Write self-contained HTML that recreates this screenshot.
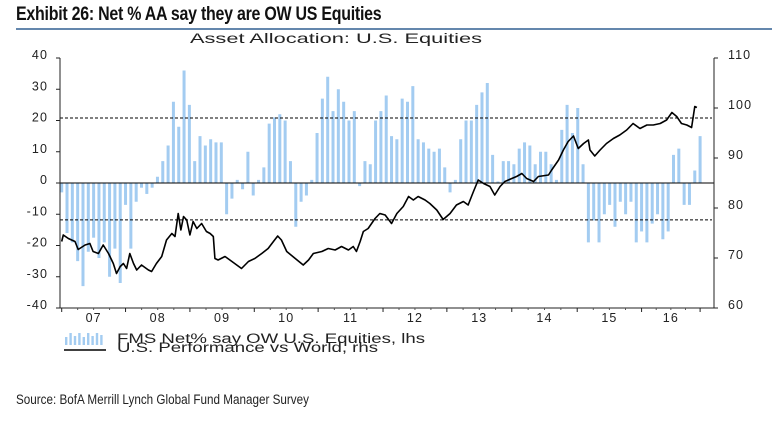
<!DOCTYPE html>
<html><head><meta charset="utf-8"><style>
body{margin:0;background:#fff;width:774px;height:432px;overflow:hidden;font-family:"Liberation Sans",sans-serif}
#title{position:absolute;left:16px;top:4px;font-family:"Liberation Sans",sans-serif;font-weight:bold;font-size:19px;color:#111;letter-spacing:-0.3px;transform:scaleX(0.84);transform-origin:0 0;white-space:nowrap}
#rule{position:absolute;left:16px;top:28px;width:756px;height:2px;background:#6487ad}
#source{position:absolute;left:16px;top:392px;font-family:"Liberation Sans",sans-serif;font-size:13.5px;color:#222;transform:scaleX(0.865);transform-origin:0 0;white-space:nowrap}
svg{position:absolute;left:0;top:0}
</style></head><body>
<div id="title">Exhibit 26: Net % AA say they are OW US Equities</div>
<div id="rule"></div>
<div id="source">Source: BofA Merrill Lynch Global Fund Manager Survey</div>
<svg id="chart" width="774" height="432"></svg>
<script>
const barValues=[-3,-16,-19,-25,-33,-22,-17.5,-24,-19,-30,-21,-32,-7,-21,-6,-1.5,-3.5,-1.5,2,7,12,26,18,36,25,7,15,12,14,13,13,-10,-5,1,-2,10,-4,1,5,19,21,22,20,7,-14,-6,-4,1,16,27,34,23,30,26,20,23,-1,7,6,20,23,
28,15,14,27,26,31,14,13,11,10,11,5,-3,1,14,20,20,25,29,32,9,0.5,7,7,6,11,13,12,6,10,10,6,1,17,25,16,24,6,-19,-12,-19,-10,-7,-14,-6,-10,-6,-19,-15.5,-19,-13,-10,-18,-15.5,9,11,-7,-7,4,15];
const lineIdx=[0,0.3,1.25,2.5,3.1,4.4,5.3,5.9,6.9,7.8,8.8,9.7,10.3,11,11.6,12.2,12.8,13.5,14.1,15,16.3,16.9,17.8,18.8,19.7,20.7,21.3,21.9,22.4,22.9,23.5,24.1,24.7,25.4,26.3,27.2,27.9,28.5,28.8,29.4,30.7,32,32.9,33.8,35.1,36.3,37.6,38.8,39.8,40.6,41.3,42.3,43.9,45.4,46.4,47.3,48.9,50.1,51.4,52.6,53.9,54.8,55.4,56.1,56.7,57.6,58.9,59.8,60.8,62,63,64.2,65.2,66.1,67,68.3,69.2,70.5,71.7,73,74.2,75.5,76.4,77.4,78.3,79.3,80.5,81.4,82.4,83.3,84.6,85.5,86.5,87.4,88.7,89.6,91.5,92.1,93.4,94.3,95.2,96.2,97.1,98.1,99,99.3,100.2,101.2,102.4,103.7,104.9,106.2,107.4,108.7,110,111.2,112.5,113.7,114.7,115.6,116.5,117.5,118.4,119,119.4];
const lineVal=[73.3,74.6,73.9,73.3,71.7,72.6,72.9,71.3,70.9,72.6,70.9,68.9,66.9,68.3,68.9,67.9,70.9,68.9,67.6,68.6,67.6,67.3,68.9,70.3,73.6,74.9,74.3,78.9,75.6,78.3,77.6,74.6,77.3,75.9,76.9,75.3,74.9,74.3,69.9,69.6,70.3,69.3,68.6,67.9,69.3,69.9,70.9,71.9,73.3,74.4,73.6,71.3,69.9,68.6,69.6,70.9,71.3,71.9,71.6,72.3,71.6,72.3,71.3,73.3,75.3,75.9,77.9,78.9,78.6,76.9,78.9,80.3,82.3,81.6,82.3,81.6,80.9,79.6,77.7,78.9,80.6,81.3,80.6,83.3,85.6,84.9,84.3,82.6,84.3,85.3,85.9,86.3,86.9,85.9,85.3,86.3,86.6,87.6,89.6,91.6,93.3,94.4,91.9,92.9,93.6,91.6,90.4,91.6,92.9,93.9,94.6,95.6,96.9,95.9,96.6,96.6,96.9,97.6,99.1,98.3,96.9,96.6,96.1,100.3,100.1];
const leftTicks=[40,30,20,10,0,-10,-20,-30,-40];
const rightTicks=[110,100,90,80,70,60];
const yearTickIdx=[0,12,24.1,36.2,48.2,60.4,72.4,84.6,96.9,109,120];
const yearLabels=['07','08','09','10','11','12','13','14','15','16'];
const bands=[20.8,-11.8];

const NS='http://www.w3.org/2000/svg',svg=document.getElementById('chart');
const X0=61.7,DX=5.32,TOP=58,BOT=308,L=60,R=714;
const x=i=>X0+i*DX, yl=v=>TOP+(40-v)/80*(BOT-TOP), yr=v=>TOP+(110-v)/50*(BOT-TOP);
function mk(t,a,p){const e=document.createElementNS(NS,t);for(const k in a)e.setAttribute(k,a[k]);(p||svg).appendChild(e);return e;}
const st=mk('text',{x:190,y:43,'font-size':14,fill:'#222',textLength:292,lengthAdjust:'spacingAndGlyphs'});
st.textContent='Asset Allocation: U.S. Equities';
const gb=mk('g',{});
barValues.forEach((v,i)=>{const y0=yl(0),y1=yl(v);const b=mk('rect',{x:x(i)-1.5,y:Math.min(y0,y1),width:3,height:Math.abs(y1-y0),fill:'#a3ccf1'},gb);
});
bands.forEach(v=>{const d=mk('line',{x1:L,x2:R-2,y1:yl(v),y2:yl(v),stroke:'#000','stroke-width':1,'stroke-dasharray':'3,2'});
});
const z=mk('line',{x1:L,x2:R,y1:yl(0),y2:yl(0),stroke:'#000','stroke-width':1});
const ln=mk('polyline',{points:lineIdx.map((t,k)=>x(t)+','+yr(lineVal[k])).join(' '),fill:'none',stroke:'#000','stroke-width':1.6,'stroke-linejoin':'round'});

const ax=mk('path',{d:`M${L} ${TOP}V${BOT}H${R}V${TOP}`,fill:'none',stroke:'#222','stroke-width':1});
leftTicks.forEach(v=>{mk('line',{x1:L-4,x2:L,y1:yl(v),y2:yl(v),stroke:'#222'});
const t=mk('text',{x:L-12,y:yl(v)+1,'text-anchor':'end','font-size':12.5,'letter-spacing':1.1,fill:'#222'});t.textContent=v;});
rightTicks.forEach(v=>{mk('line',{x1:R,x2:R+4,y1:yr(v),y2:yr(v),stroke:'#222'});
const t=mk('text',{x:R+14,y:yr(v)+1,'font-size':12.5,'letter-spacing':1.1,fill:'#222'});t.textContent=v;});
yearTickIdx.forEach(t=>mk('line',{x1:x(t),x2:x(t),y1:BOT,y2:BOT+4,stroke:'#222'}));
for(let k=0;k<yearTickIdx.length-1;k++){for(let q=1;q<4;q++){const t=yearTickIdx[k]+(yearTickIdx[k+1]-yearTickIdx[k])*q/4;mk('line',{x1:x(t),x2:x(t),y1:BOT,y2:BOT+2,stroke:'#555'});}}
yearLabels.forEach((s,k)=>{const t=mk('text',{x:x((yearTickIdx[k]+yearTickIdx[k+1])/2),y:BOT+14,'text-anchor':'middle','font-size':12.5,'letter-spacing':1.1,fill:'#222'});
t.textContent=s;});
const lg=mk('g',{});
[8,12,9,12,8,12,9,12,10].forEach((h,k)=>mk('rect',{x:65+k*4.4,y:345-h,width:2.4,height:h,fill:'#a3ccf1'},lg));
mk('line',{x1:64,x2:106,y1:350,y2:350,stroke:'#000','stroke-width':1.5},lg);
const t1=mk('text',{x:117,y:343,'font-size':13.5,fill:'#222',textLength:308,lengthAdjust:'spacingAndGlyphs'},lg);t1.textContent='FMS Net% say OW U.S. Equities, lhs';
const t2=mk('text',{x:117,y:352,'font-size':13.5,fill:'#222',textLength:261,lengthAdjust:'spacingAndGlyphs'},lg);t2.textContent='U.S. Performance vs World, rhs';
</script>
</body></html>
